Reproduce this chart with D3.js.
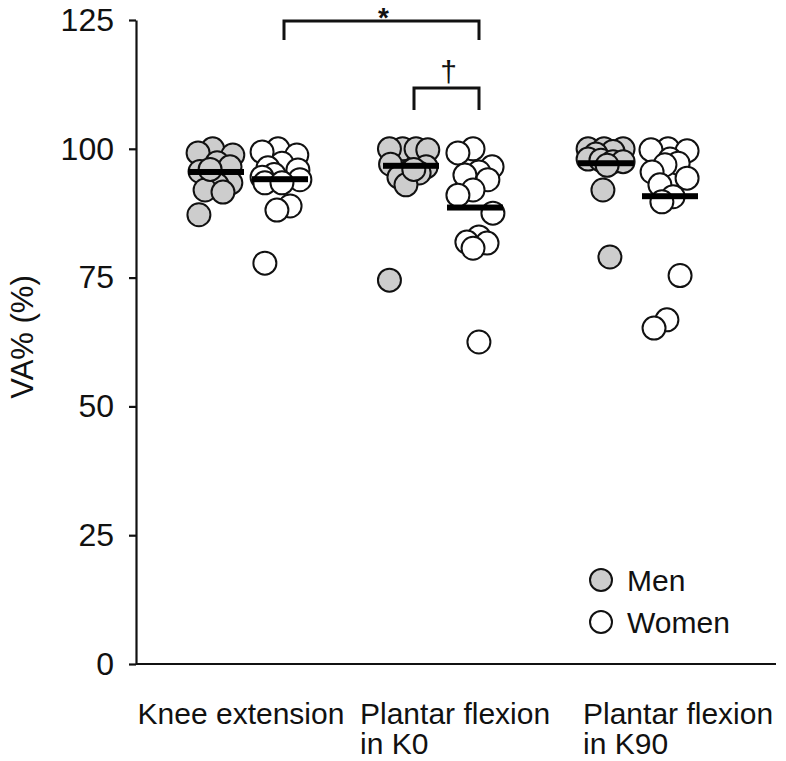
<!DOCTYPE html>
<html>
<head>
<meta charset="utf-8">
<script src="https://cdn.jsdelivr.net/npm/d3@7"></script>
<style>
  body { margin: 0; background: #fff; }
  text { font-family: "Liberation Sans", Arial, sans-serif; fill: #111; }
</style>
</head>
<body>
<div id="plot"></div>
<script>
// Categories and tick labels
var categories = ["Knee extension", "Plantar flexion in K0", "Plantar flexion in K90"];
var categoryLines = [["Knee extension"], ["Plantar flexion", "in K0"], ["Plantar flexion", "in K90"]];
var sexes = ["Men", "Women"];
var yTicks = [0, 25, 50, 75, 100, 125];

// VA% values per subject
var kneeMen = [100, 99.2, 98.8, 97.3, 96.5, 95.6, 93.4, 93, 92, 91.6, 87.2, 96];
var kneeWomen = [100, 99.4, 98.8, 97.2, 96.3, 95.9, 95, 94.5, 94, 93.4, 93.4, 88.9, 88.1, 77.8];
var k0Men = [100, 100, 100, 99.8, 97, 96.5, 95.5, 95.3, 94.5, 93, 96, 74.5];
var k0Women = [100, 99.2, 96.5, 95.5, 94.9, 94, 92, 91, 87.5, 82.9, 81.9, 81.7, 80.7, 62.5];
var k90Men = [100, 100, 100, 99.5, 99, 98, 97.8, 97.5, 97.5, 96.8, 92, 79];
var k90Women = [100, 99.8, 99.6, 98, 97.2, 96.9, 95.5, 94.3, 93, 90.7, 89.7, 75.4, 66.8, 65.2];

// horizontal jitter of each dot (-1..1 of half a bar width), same order as above
var kneeMenJit = [-0.12, -0.64, 0.6, 0.04, 0.5, -0.57, 0.53, 0.04, -0.39, 0.25, -0.61, -0.21];
var kneeWomenJit = [-0.07, -0.64, 0.6, 0.07, -0.43, 0.64, -0.21, -0.64, 0.71, -0.54, 0.07, 0.36, -0.11, -0.54];
var k0MenJit = [-0.3, -0.77, 0.18, 0.6, -0.73, 0.54, -0.07, 0.29, -0.43, -0.18, 0.1, -0.77];
var k0WomenJit = [-0.07, -0.61, 0.61, 0.14, -0.36, 0.46, -0.07, -0.61, 0.64, 0.14, -0.29, 0.43, -0.07, 0.14];
var k90MenJit = [-0.64, -0.07, 0.61, 0.25, -0.36, -0.64, -0.18, 0.25, 0.61, 0.04, -0.11, 0.14];
var k90WomenJit = [-0.07, -0.68, 0.61, 0, 0.29, -0.18, -0.64, 0.61, -0.36, 0.11, -0.29, 0.36, -0.11, -0.57];

// group means (horizontal bars)
var meanMen = [95.5, 96.7, 97.2];
var meanWomen = [94.1, 88.6, 90.8];

function init() {
  var w = 786;
  var h = 761;
  var r = 11.5;
  var fs = "30px";

  var svg = d3.select("#plot")
    .append("svg")
    .attr("width", w)
    .attr("height", h);

  var yScale = d3.scaleLinear()
    .domain([0, 125])
    .range([664, 20]);

  var xScale = d3.scalePoint()
    .domain(categories)
    .range([248, 638]);

  var sexScale = d3.scalePoint()
    .domain(sexes)
    .range([-32, 32]);

  var jitScale = d3.scaleLinear()
    .domain([-1, 1])
    .range([-28, 28]);

  var groups = [
    { cat: categories[0], sex: "Men", vals: kneeMen, jit: kneeMenJit, mean: meanMen[0] },
    { cat: categories[0], sex: "Women", vals: kneeWomen, jit: kneeWomenJit, mean: meanWomen[0] },
    { cat: categories[1], sex: "Men", vals: k0Men, jit: k0MenJit, mean: meanMen[1] },
    { cat: categories[1], sex: "Women", vals: k0Women, jit: k0WomenJit, mean: meanWomen[1] },
    { cat: categories[2], sex: "Men", vals: k90Men, jit: k90MenJit, mean: meanMen[2] },
    { cat: categories[2], sex: "Women", vals: k90Women, jit: k90WomenJit, mean: meanWomen[2] }
  ];

  function gx(g) { return xScale(g.cat) + sexScale(g.sex); }
  function fillOf(sex) { return sex === "Men" ? "#cdcdcd" : "#ffffff"; }

  // y-axis
  var yAxis = d3.axisLeft(yScale)
    .tickValues(yTicks)
    .tickSize(7)
    .tickSizeOuter(0)
    .tickPadding(15);

  var ya = svg.append("g")
    .attr("transform", "translate(136,0)")
    .call(yAxis);
  ya.select(".domain").attr("stroke", "#111").attr("stroke-width", 2.2);
  ya.selectAll(".tick line").attr("stroke", "#111").attr("stroke-width", 2.2);
  ya.selectAll(".tick text").style("font-size", "32px").attr("fill", "#111");

  // x-axis line
  svg.append("line")
    .attr("x1", 136)
    .attr("x2", 776)
    .attr("y1", yScale(0))
    .attr("y2", yScale(0))
    .attr("stroke", "#111")
    .attr("stroke-width", 2.2);

  // y-axis label
  svg.append("text")
    .attr("text-anchor", "middle")
    .attr("transform", "rotate(-90)")
    .attr("x", -337)
    .attr("y", 33)
    .style("font-size", "31px")
    .text("VA% (%)");

  // category labels (first one centred, the other two left aligned), one text per line
  var labelShift = [-7, -83, -55];
  categoryLines.forEach(function(lines, i) {
    lines.forEach(function(line, j) {
      svg.append("text")
        .attr("text-anchor", i === 0 ? "middle" : "start")
        .attr("x", xScale(categories[i]) + labelShift[i])
        .attr("y", 724 + j * 30)
        .style("font-size", fs)
        .text(line);
    });
  });

  // dots
  groups.forEach(function(g) {
    svg.append("g")
      .selectAll("circle")
      .data(g.vals)
      .enter()
      .append("circle")
      .attr("cx", function(d, i) { return gx(g) + jitScale(g.jit[i]); })
      .attr("cy", function(d) { return yScale(d); })
      .attr("r", r)
      .attr("fill", fillOf(g.sex))
      .attr("stroke", "#111")
      .attr("stroke-width", 2);
  });

  // mean bars
  svg.selectAll("rect.mean")
    .data(groups)
    .enter()
    .append("rect")
    .attr("class", "mean")
    .attr("x", function(g) { return gx(g) - 28; })
    .attr("y", function(g) { return yScale(g.mean) - 3; })
    .attr("width", 56)
    .attr("height", 6)
    .attr("fill", "#000");

  // significance brackets
  function bracket(x1, x2, y, drop, label, ly, size, weight) {
    svg.append("path")
      .attr("d", "M" + x1 + "," + (y + drop) + "V" + y + "H" + x2 + "V" + (y + drop))
      .attr("fill", "none")
      .attr("stroke", "#111")
      .attr("stroke-width", 3);
    svg.append("text")
      .attr("x", (x1 + x2) / 2 + 2)
      .attr("y", ly)
      .attr("text-anchor", "middle")
      .style("font-size", size)
      .style("font-weight", weight)
      .text(label);
  }
  var kW = xScale(categories[0]) + sexScale("Women") + 4;
  var k0M = xScale(categories[1]) + sexScale("Men") + 3;
  var k0W = xScale(categories[1]) + sexScale("Women") + 4;
  bracket(kW, k0W, 21, 19, "*", 27, "28px", "bold");
  bracket(k0M, k0W, 88, 22, "\u2020", 82, "30px", "normal");

  // legend
  var legend = svg.append("g");
  sexes.forEach(function(s, i) {
    legend.append("circle")
      .attr("cx", 601)
      .attr("cy", 580 + i * 42)
      .attr("r", 11)
      .attr("fill", fillOf(s))
      .attr("stroke", "#111")
      .attr("stroke-width", 2);
    legend.append("text")
      .attr("x", 627)
      .attr("y", 580 + i * 42)
      .attr("dy", "0.35em")
      .style("font-size", fs)
      .text(s);
  });
}

window.onload = init;
</script>
</body>
</html>
